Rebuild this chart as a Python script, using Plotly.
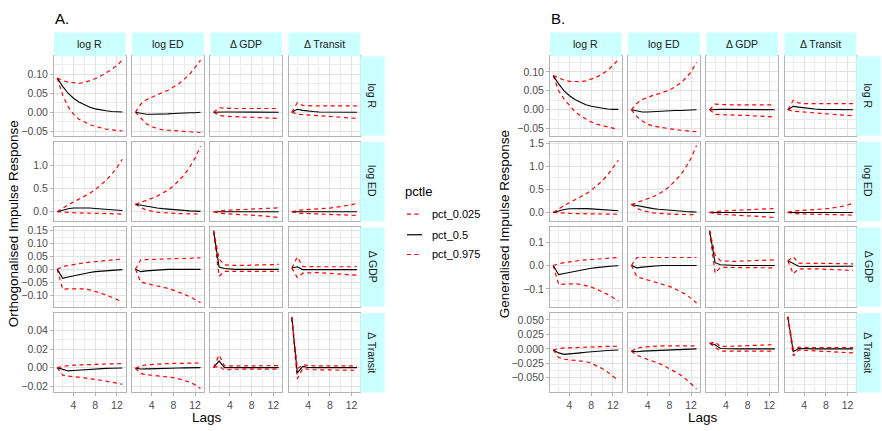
import plotly.graph_objects as go

W, H = 882, 431
LAGS = list(range(1, 14))
VARS = ["log R", "log ED", "Δ GDP", "Δ Transit"]
PCTLES = ["pct_0.025", "pct_0.5", "pct_0.975"]

Z = [0] * 13

# ---------------- Panel A: orthogonalised IRF  [response row][impulse col] ----------------
ORTH_P025 = [
    [[0.09, 0.045, 0.015, -0.005, -0.018, -0.026, -0.032, -0.037, -0.041, -0.044, -0.046, -0.048, -0.049],
     [0, -0.016, -0.03, -0.038, -0.043, -0.046, -0.047, -0.048, -0.049, -0.05, -0.051, -0.052, -0.053],
     [0, -0.008, -0.010, -0.011, -0.012, -0.012, -0.013, -0.013, -0.014, -0.014, -0.015, -0.015, -0.016],
     [0, -0.005, -0.006, -0.007, -0.008, -0.009, -0.010, -0.011, -0.012, -0.013, -0.014, -0.015, -0.016]],
    [[0, -0.012, -0.018, -0.022, -0.025, -0.028, -0.031, -0.034, -0.037, -0.040, -0.043, -0.046, -0.050],
     [0.163, 0.09, 0.04, 0.01, -0.01, -0.02, -0.03, -0.035, -0.04, -0.042, -0.045, -0.047, -0.05],
     [0, -0.03, -0.04, -0.045, -0.05, -0.055, -0.06, -0.07, -0.08, -0.09, -0.10, -0.11, -0.125],
     [0, -0.03, -0.035, -0.04, -0.045, -0.05, -0.055, -0.058, -0.062, -0.066, -0.07, -0.075, -0.08]],
    [[0, -0.077, -0.076, -0.075, -0.075, -0.076, -0.080, -0.085, -0.092, -0.100, -0.108, -0.117, -0.128],
     [0, -0.05, -0.055, -0.06, -0.064, -0.068, -0.074, -0.081, -0.088, -0.097, -0.106, -0.116, -0.129],
     [0.146, -0.027, -0.008, -0.008, -0.008, -0.008, -0.008, -0.008, -0.008, -0.008, -0.008, -0.008, -0.008],
     [0.005, -0.032, -0.015, -0.013, -0.013, -0.013, -0.014, -0.015, -0.016, -0.018, -0.019, -0.021, -0.023]],
    [[0, -0.008, -0.009, -0.0095, -0.010, -0.011, -0.012, -0.0125, -0.0135, -0.0145, -0.0155, -0.0165, -0.0178],
     [-0.0008, -0.0065, -0.0075, -0.008, -0.0085, -0.009, -0.0097, -0.0107, -0.012, -0.0135, -0.0155, -0.0185, -0.0225],
     [0.0003, 0.0015, -0.0025, -0.0018, -0.0017, -0.0017, -0.0016, -0.0016, -0.0016, -0.0015, -0.0015, -0.0015, -0.0015],
     [0.053, -0.012, -0.001, -0.002, -0.0022, -0.0023, -0.0024, -0.0025, -0.0025, -0.0026, -0.0027, -0.0027, -0.0028]],
]
ORTH_P50 = [
    [[0.09, 0.068, 0.050, 0.037, 0.027, 0.019, 0.013, 0.009, 0.006, 0.004, 0.002, 0.001, 0.001],
     [0, -0.003, -0.005, -0.005, -0.005, -0.004, -0.004, -0.003, -0.002, -0.002, -0.001, -0.001, 0],
     [0, 0.001, 0.001, 0.001, 0.001, 0.001, 0.001, 0, 0, 0, 0, 0, 0],
     [0, 0.008, 0.005, 0.003, 0.002, 0.001, 0.001, 0, 0, 0, 0, 0, 0]],
    [[0, 0.04, 0.065, 0.08, 0.085, 0.085, 0.08, 0.072, 0.064, 0.055, 0.046, 0.037, 0.028],
     [0.163, 0.14, 0.12, 0.10, 0.083, 0.068, 0.055, 0.044, 0.034, 0.026, 0.019, 0.013, 0.008],
     Z, Z],
    [[0, -0.035, -0.030, -0.025, -0.020, -0.016, -0.012, -0.009, -0.007, -0.005, -0.003, -0.002, -0.001],
     [0, -0.009, -0.006, -0.004, -0.002, -0.001, 0, 0, 0, 0, 0, 0, 0],
     [0.148, 0.009, 0.003, 0.001, 0, 0, 0, 0, 0, 0, 0, 0, 0],
     [0.005, 0.01, -0.001, -0.001, -0.001, -0.001, -0.001, -0.001, -0.001, -0.001, -0.001, -0.001, -0.001]],
    [[0, -0.002, -0.0035, -0.003, -0.0025, -0.002, -0.0017, -0.0014, -0.0011, -0.0008, -0.0006, -0.0004, -0.0003],
     [-0.0008, -0.0015, -0.0013, -0.001, -0.0008, -0.0006, -0.0005, -0.0004, -0.0003, -0.0002, -0.0001, 0, 0],
     [0.0003, 0.0072, 0, 0, 0, 0, 0, 0, 0, 0, 0, 0, 0],
     [0.054, -0.0056, 0.0014, 0.0002, 0, 0, 0, 0, 0, 0, 0, 0, 0]],
]
ORTH_P975 = [
    [[0.09, 0.083, 0.079, 0.077, 0.076, 0.078, 0.082, 0.088, 0.095, 0.103, 0.112, 0.123, 0.137],
     [0, 0.022, 0.033, 0.040, 0.046, 0.052, 0.058, 0.066, 0.075, 0.087, 0.100, 0.118, 0.137],
     [0, 0.012, 0.011, 0.010, 0.010, 0.010, 0.010, 0.010, 0.010, 0.010, 0.010, 0.010, 0.010],
     [0, 0.025, 0.018, 0.017, 0.017, 0.017, 0.017, 0.017, 0.017, 0.017, 0.017, 0.017, 0.017]],
    [[0, 0.08, 0.15, 0.21, 0.27, 0.33, 0.40, 0.48, 0.57, 0.68, 0.81, 0.96, 1.14],
     [0.163, 0.20, 0.25, 0.29, 0.34, 0.40, 0.47, 0.56, 0.67, 0.80, 0.97, 1.17, 1.42],
     [0, 0.02, 0.03, 0.035, 0.04, 0.045, 0.05, 0.055, 0.06, 0.065, 0.07, 0.075, 0.085],
     [0, 0.03, 0.04, 0.045, 0.05, 0.06, 0.07, 0.08, 0.095, 0.11, 0.13, 0.15, 0.185]],
    [[0, 0.01, 0.015, 0.019, 0.022, 0.025, 0.028, 0.030, 0.033, 0.035, 0.037, 0.039, 0.040],
     [0, 0.038, 0.038, 0.039, 0.039, 0.040, 0.040, 0.041, 0.042, 0.042, 0.043, 0.044, 0.045],
     [0.151, 0.04, 0.017, 0.015, 0.015, 0.015, 0.016, 0.016, 0.017, 0.017, 0.018, 0.018, 0.019],
     [0.005, 0.048, 0.011, 0.01, 0.01, 0.01, 0.01, 0.01, 0.01, 0.01, 0.01, 0.01, 0.01]],
    [[0, 0.0015, 0.0022, 0.0027, 0.003, 0.0033, 0.0035, 0.0037, 0.0038, 0.004, 0.0041, 0.0042, 0.0043],
     [-0.0008, 0.002, 0.003, 0.0035, 0.004, 0.0042, 0.0044, 0.0045, 0.0046, 0.0047, 0.0048, 0.0049, 0.005],
     [0.0003, 0.0135, 0.002, 0.0018, 0.0018, 0.0018, 0.0018, 0.0019, 0.0019, 0.002, 0.002, 0.0021, 0.0022],
     [0.0547, -0.001, 0.003, 0.0022, 0.002, 0.002, 0.002, 0.002, 0.002, 0.002, 0.002, 0.002, 0.002]],
]

# ---------------- Panel B: generalised IRF  [response row][impulse col] ----------------
GEN_P025 = [
    [[0.09, 0.05, 0.028, 0.01, -0.005, -0.016, -0.025, -0.032, -0.038, -0.042, -0.046, -0.049, -0.052],
     [0, -0.018, -0.03, -0.038, -0.043, -0.046, -0.048, -0.05, -0.052, -0.054, -0.055, -0.057, -0.058],
     [0, -0.012, -0.013, -0.013, -0.014, -0.014, -0.015, -0.015, -0.016, -0.017, -0.017, -0.018, -0.019],
     [0, -0.004, -0.005, -0.006, -0.007, -0.008, -0.009, -0.010, -0.011, -0.012, -0.013, -0.014, -0.016]],
    [[0, -0.012, -0.018, -0.022, -0.025, -0.027, -0.029, -0.031, -0.033, -0.035, -0.037, -0.039, -0.04],
     [0.17, 0.09, 0.04, 0.01, -0.01, -0.02, -0.03, -0.035, -0.04, -0.042, -0.045, -0.047, -0.05],
     [0, -0.03, -0.04, -0.045, -0.05, -0.055, -0.06, -0.066, -0.072, -0.08, -0.088, -0.1, -0.113],
     [0, -0.025, -0.03, -0.033, -0.036, -0.039, -0.042, -0.045, -0.047, -0.05, -0.052, -0.055, -0.058]],
    [[0, -0.081, -0.079, -0.078, -0.078, -0.080, -0.085, -0.092, -0.101, -0.111, -0.123, -0.136, -0.151],
     [0, -0.048, -0.055, -0.062, -0.068, -0.074, -0.081, -0.089, -0.099, -0.11, -0.123, -0.14, -0.16],
     [0.145, -0.032, -0.008, -0.008, -0.008, -0.008, -0.009, -0.009, -0.009, -0.009, -0.01, -0.01, -0.01],
     [0.02, -0.035, -0.014, -0.013, -0.013, -0.014, -0.015, -0.016, -0.017, -0.018, -0.019, -0.020, -0.021]],
    [[-0.002, -0.015, -0.018, -0.019, -0.02, -0.021, -0.022, -0.025, -0.029, -0.034, -0.04, -0.047, -0.055],
     [-0.004, -0.011, -0.015, -0.018, -0.021, -0.025, -0.029, -0.034, -0.039, -0.045, -0.052, -0.06, -0.069],
     [0.0095, 0.003, -0.004, -0.004, -0.004, -0.004, -0.004, -0.004, -0.004, -0.004, -0.004, -0.004, -0.004],
     [0.055, -0.012, -0.002, -0.003, -0.003, -0.0035, -0.004, -0.0045, -0.005, -0.0055, -0.006, -0.0065, -0.007]],
]
GEN_P50 = [
    [[0.09, 0.068, 0.050, 0.037, 0.027, 0.019, 0.013, 0.009, 0.006, 0.004, 0.002, 0.001, 0.001],
     [0, -0.004, -0.006, -0.006, -0.005, -0.005, -0.004, -0.003, -0.002, -0.002, -0.001, -0.001, 0],
     [0, 0.001, 0.001, 0.001, 0.001, 0.001, 0.001, 0.001, 0, 0, 0, 0, 0],
     [0, 0.009, 0.007, 0.005, 0.003, 0.002, 0.001, 0.001, 0, 0, 0, 0, 0]],
    [[0, 0.04, 0.065, 0.08, 0.085, 0.085, 0.082, 0.076, 0.068, 0.06, 0.052, 0.044, 0.036],
     [0.17, 0.145, 0.122, 0.10, 0.083, 0.068, 0.055, 0.044, 0.034, 0.026, 0.019, 0.013, 0.008],
     Z, Z],
    [[0, -0.039, -0.034, -0.029, -0.024, -0.019, -0.015, -0.012, -0.009, -0.006, -0.004, -0.002, -0.001],
     [0, -0.01, -0.007, -0.004, -0.002, -0.001, 0, 0, 0, 0, 0, 0, 0],
     [0.147, 0.012, 0.003, 0.001, 0, 0, 0, 0, 0, 0, 0, 0, 0],
     [0.02, 0.01, -0.003, -0.004, -0.004, -0.004, -0.004, -0.004, -0.004, -0.004, -0.003, -0.003, -0.003]],
    [[-0.002, -0.007, -0.0095, -0.009, -0.008, -0.007, -0.006, -0.005, -0.0045, -0.004, -0.003, -0.0025, -0.002],
     [-0.004, -0.005, -0.004, -0.0035, -0.003, -0.0025, -0.002, -0.0015, -0.001, -0.0007, -0.0005, -0.0003, 0],
     [0.0095, 0.007, 0.0005, 0, 0, 0, 0, 0, 0, 0, 0, 0, 0],
     [0.0555, -0.005, 0.0005, 0, 0, 0, 0, 0, 0, 0, 0, 0, 0]],
]
GEN_P975 = [
    [[0.09, 0.083, 0.078, 0.075, 0.074, 0.074, 0.076, 0.080, 0.086, 0.094, 0.104, 0.117, 0.132],
     [0, 0.017, 0.027, 0.033, 0.038, 0.042, 0.046, 0.052, 0.06, 0.07, 0.083, 0.1, 0.125],
     [0, 0.015, 0.014, 0.013, 0.013, 0.013, 0.013, 0.013, 0.013, 0.013, 0.013, 0.013, 0.013],
     [0, 0.025, 0.018, 0.016, 0.016, 0.016, 0.016, 0.016, 0.016, 0.016, 0.016, 0.016, 0.016]],
    [[0, 0.08, 0.15, 0.21, 0.27, 0.33, 0.40, 0.48, 0.57, 0.68, 0.81, 0.96, 1.13],
     [0.17, 0.21, 0.25, 0.29, 0.34, 0.40, 0.47, 0.56, 0.67, 0.80, 0.97, 1.18, 1.45],
     [0, 0.02, 0.03, 0.035, 0.04, 0.045, 0.05, 0.055, 0.06, 0.065, 0.07, 0.077, 0.085],
     [0, 0.03, 0.04, 0.045, 0.05, 0.06, 0.07, 0.08, 0.095, 0.11, 0.13, 0.16, 0.2]],
    [[0, 0.008, 0.012, 0.016, 0.019, 0.022, 0.024, 0.026, 0.028, 0.030, 0.032, 0.033, 0.034],
     [0, 0.034, 0.034, 0.034, 0.034, 0.034, 0.034, 0.034, 0.034, 0.034, 0.034, 0.034, 0.034],
     [0.15, 0.045, 0.02, 0.018, 0.018, 0.018, 0.019, 0.019, 0.02, 0.021, 0.022, 0.023, 0.024],
     [0.02, 0.037, 0.01, 0.009, 0.009, 0.009, 0.009, 0.009, 0.008, 0.008, 0.008, 0.007, 0.007]],
    [[-0.002, 0.0005, 0.0015, 0.002, 0.0025, 0.003, 0.0033, 0.0036, 0.0039, 0.0041, 0.0043, 0.0044, 0.0045],
     [-0.004, 0.001, 0.003, 0.004, 0.0045, 0.005, 0.005, 0.005, 0.005, 0.005, 0.005, 0.005, 0.005],
     [0.0095, 0.012, 0.004, 0.004, 0.0045, 0.005, 0.005, 0.0055, 0.006, 0.006, 0.0065, 0.007, 0.0073],
     [0.0557, -0.001, 0.003, 0.002, 0.002, 0.002, 0.002, 0.002, 0.002, 0.002, 0.002, 0.002, 0.002]],
]

# y-axis breaks and tick formats per row (panel A / panel B)
A_Y_TICKS = [[-0.05, 0, 0.05, 0.10], [0, 0.5, 1.0], [-0.10, -0.05, 0, 0.05, 0.10, 0.15], [-0.02, 0, 0.02, 0.04]]
B_Y_TICKS = [[-0.05, 0, 0.05, 0.10], [0, 0.5, 1.0, 1.5], [-0.1, 0, 0.1], [-0.05, -0.025, 0, 0.025, 0.05]]
A_Y_FMT = [".2f", ".1f", ".2f", ".2f"]
B_Y_FMT = [".2f", ".1f", ".1f", ".3f"]
X_TICKS = [4, 8, 12]
X_MINOR = [2, 6, 10]

# ---------------- layout geometry (pixels) ----------------
A_RANGES = [[-0.0612, 0.1469], [-0.206, 1.517], [-0.1457, 0.1626], [-0.0266, 0.0586]]
B_RANGES = [[-0.0683, 0.141], [-0.191, 1.528], [-0.176, 0.162], [-0.0754, 0.0619]]
A_COL_LEFT = [54, 132.2, 210.4, 288.6]
B_COL_LEFT = [550, 628.2, 706.4, 784.6]
COL_W = 71.6
ROW_TOP = [52, 138.8, 225.6, 312.4]
ROW_H = 80.5
STRIP_TOP = 28
STRIP_W = 24.5

FONT = "Liberation Sans, Arial, Helvetica, sans-serif"
RED = "#FF0000"
DASH = "4px,3.5px"
GRID = "#E2E2E2"
GRID_MINOR = "#EDEDED"
BORDER = "#B3B3B3"
STRIP = "#CCFFFF"
TICK_FONT = dict(size=10.5, color="#4D4D4D", family=FONT)


def fx(p):
    return p / W


def fy(p):
    return 1 - p / H


def minor_vals(ticks, rng):
    step = ticks[1] - ticks[0]
    vals = [ticks[0] - step / 2] + [(a + b) / 2 for a, b in zip(ticks[:-1], ticks[1:])] + [ticks[-1] + step / 2]
    return [v for v in vals if rng[0] <= v <= rng[1]]


fig = go.Figure()
layout = {}
shapes = []
annotations = []

panels = [
    ("A.", "Orthogonalised Impulse Response", ORTH_P025, ORTH_P50, ORTH_P975, A_COL_LEFT, A_RANGES, A_Y_TICKS, A_Y_FMT, 13),
    ("B.", "Generalised Impulse Response", GEN_P025, GEN_P50, GEN_P975, B_COL_LEFT, B_RANGES, B_Y_TICKS, B_Y_FMT, 504),
]

k = 0
for title, ytitle, lo, md, hi, col_left, ranges, yticks, yfmt, ytitle_x in panels:
    for r in range(4):
        for c in range(4):
            k += 1
            xname = "x" if k == 1 else f"x{k}"
            yname = "y" if k == 1 else f"y{k}"
            for series, name in zip((lo, md, hi), PCTLES):
                is_med = name == "pct_0.5"
                fig.add_trace(go.Scatter(
                    x=LAGS, y=series[r][c], mode="lines", name=name,
                    line=dict(color="black" if is_med else RED, width=1.1 if is_med else 1.2,
                              dash="solid" if is_med else DASH),
                    xaxis=xname, yaxis=yname, showlegend=False, hoverinfo="skip"))
            left = col_left[c]
            top = ROW_TOP[r]
            layout["xaxis" if k == 1 else f"xaxis{k}"] = dict(
                domain=[fx(left), fx(left + COL_W)], anchor=yname, range=[0.4, 13.6],
                tickmode="array", tickvals=X_TICKS, showticklabels=(r == 3),
                ticks="outside" if r == 3 else "", ticklen=3, tickcolor=BORDER,
                tickfont=TICK_FONT,
                showgrid=True, gridcolor=GRID, gridwidth=1, zeroline=False,
                minor=dict(tickvals=X_MINOR, showgrid=True, gridcolor=GRID_MINOR, gridwidth=1, ticks=""),
                showline=True, mirror=True, linecolor=BORDER, linewidth=1, fixedrange=True)
            layout["yaxis" if k == 1 else f"yaxis{k}"] = dict(
                domain=[fy(top + ROW_H), fy(top)], anchor=xname, range=ranges[r],
                tickmode="array", tickvals=yticks[r], tickformat=yfmt[r], showticklabels=(c == 0),
                ticks="outside" if c == 0 else "", ticklen=3, tickcolor=BORDER,
                tickfont=TICK_FONT,
                showgrid=True, gridcolor=GRID, gridwidth=1, zeroline=False,
                minor=dict(tickvals=minor_vals(yticks[r], ranges[r]), showgrid=True,
                           gridcolor=GRID_MINOR, gridwidth=1, ticks=""),
                showline=True, mirror=True, linecolor=BORDER, linewidth=1, fixedrange=True)

    # column strips (top)
    for c, lab in enumerate(VARS):
        left = col_left[c]
        shapes.append(dict(type="rect", xref="paper", yref="paper", x0=fx(left), x1=fx(left + COL_W),
                           y0=fy(ROW_TOP[0]), y1=fy(STRIP_TOP), fillcolor=STRIP, line=dict(width=0)))
        annotations.append(dict(text=lab, xref="paper", yref="paper", x=fx(left + COL_W / 2),
                                y=fy((STRIP_TOP + ROW_TOP[0]) / 2), showarrow=False,
                                font=dict(size=10.5, color="#1A1A1A", family=FONT),
                                xanchor="center", yanchor="middle"))
    # row strips (right)
    sx0 = col_left[3] + COL_W
    for r, lab in enumerate(VARS):
        shapes.append(dict(type="rect", xref="paper", yref="paper", x0=fx(sx0), x1=fx(sx0 + STRIP_W),
                           y0=fy(ROW_TOP[r] + ROW_H), y1=fy(ROW_TOP[r]), fillcolor=STRIP, line=dict(width=0)))
        annotations.append(dict(text=lab, xref="paper", yref="paper", x=fx(sx0 + STRIP_W / 2),
                                y=fy(ROW_TOP[r] + ROW_H / 2), showarrow=False, textangle=90,
                                font=dict(size=10.5, color="#1A1A1A", family=FONT),
                                xanchor="center", yanchor="middle"))
    # panel title
    annotations.append(dict(text=title, xref="paper", yref="paper", x=fx(col_left[0] - 1), y=fy(14),
                            showarrow=False, xanchor="left", yanchor="middle",
                            font=dict(size=15, color="black", family=FONT)))
    # x axis title
    annotations.append(dict(text="Lags", xref="paper", yref="paper",
                            x=fx((col_left[0] + col_left[3] + COL_W) / 2), y=fy(418),
                            showarrow=False, xanchor="center", yanchor="middle",
                            font=dict(size=13.5, color="black", family=FONT)))
    # y axis title
    annotations.append(dict(text=ytitle, xref="paper", yref="paper", x=fx(ytitle_x),
                            y=fy((ROW_TOP[0] + ROW_TOP[3] + ROW_H) / 2), showarrow=False, textangle=-90,
                            xanchor="center", yanchor="middle",
                            font=dict(size=13.5, color="black", family=FONT)))

# legend (drawn manually to match ggplot key size)
annotations.append(dict(text="pctle", xref="paper", yref="paper", x=fx(403), y=fy(189), showarrow=False,
                        xanchor="left", yanchor="middle", font=dict(size=13, color="black", family=FONT)))
for i, name in enumerate(PCTLES):
    yy = [212, 233, 253][i]
    is_med = name == "pct_0.5"
    shapes.append(dict(type="line", xref="paper", yref="paper", x0=fx(407), x1=fx(422), y0=fy(yy), y1=fy(yy),
                       line=dict(color="black" if is_med else RED, width=1.2, dash="solid" if is_med else DASH)))
    annotations.append(dict(text=name, xref="paper", yref="paper", x=fx(430), y=fy(yy), showarrow=False,
                            xanchor="left", yanchor="middle", font=dict(size=11, color="black", family=FONT)))

fig.update_layout(
    width=W, height=H, margin=dict(l=0, r=0, t=0, b=0),
    paper_bgcolor="white", plot_bgcolor="white",
    showlegend=False, shapes=shapes, annotations=annotations,
    font=dict(family=FONT), **layout)

fig.write_html("out.html", config={"displayModeBar": False, "staticPlot": True},
               post_script="document.body.style.margin='0';document.body.style.padding='0';"
                           "document.documentElement.style.overflow='hidden';")
